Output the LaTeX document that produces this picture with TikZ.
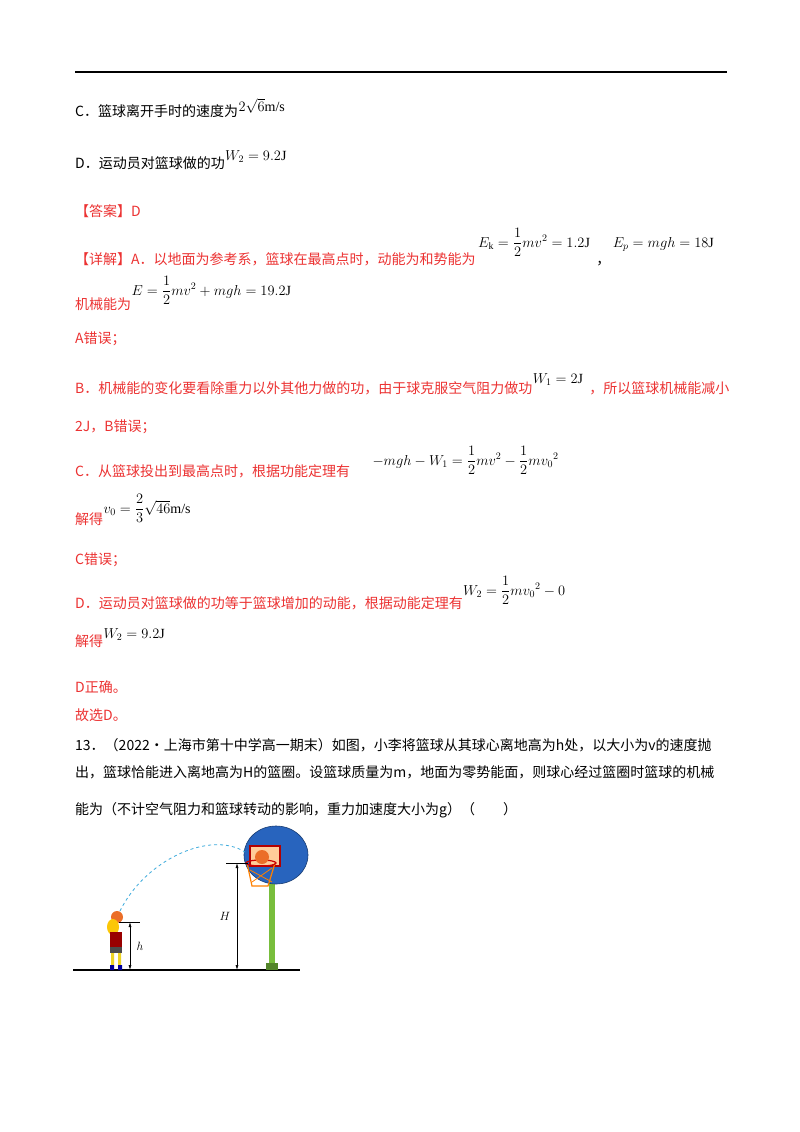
\documentclass[tikz,border=0pt]{standalone}
\usepackage{amsmath}
\usepackage{fontspec}
\setmainfont{Liberation Serif}
\newfontfamily\cjk{Noto Sans CJK SC}
\usetikzlibrary{arrows.meta}
\definecolor{ansred}{RGB}{236,50,50}
\definecolor{bblue}{RGB}{40,100,190}
\definecolor{pgreen}{RGB}{120,190,60}
\definecolor{borange}{RGB}{235,110,40}
\definecolor{dashc}{RGB}{60,170,220}
\tikzset{
 txt/.style={anchor=base west,inner sep=0pt,font=\cjk\fontsize{14}{16}\selectfont},
 red/.style={txt,text=ansred},
 eq/.style={anchor=base west,inner sep=0pt,font=\fontsize{14}{16}\selectfont},
 dim/.style={{Latex[length=5pt,width=3pt]}-{Latex[length=5pt,width=3pt]},line width=0.6pt},
}
\begin{document}
\begin{tikzpicture}[x=1pt,y=-1pt]
\useasboundingbox (0,0) rectangle (800,1132);
\fill[white] (0,0) rectangle (800,1132);
\draw[line width=1.5pt] (75,72) -- (727,72);
\node[txt] (c1) at (75,116) {C．篮球离开手时的速度为};
\node[eq] (c1e) at ([yshift=5pt]c1.base east) {$2\sqrt{6}$m/s};
\node[txt] (d1) at (75,168) {D．运动员对篮球做的功};
\node[eq] (d1e) at ([yshift=8pt]d1.base east) {$W_2=9.2$J};
\node[red] (ans) at (75,216) {【答案】D};
\node[red] (xa) at (75,264) {【详解】A．以地面为参考系，篮球在最高点时，动能为和势能为};
\node[eq] (xae) at ([yshift=17pt,xshift=2pt]xa.base east) {$E_{\mathrm k}=\dfrac12 mv^2=1.2$J};
\node[txt] (cm) at ([xshift=6pt,yshift=-17pt]xae.base east) {，};
\node[eq] (xae2) at ([xshift=2pt,yshift=17pt]cm.base east) {$E_p=mgh=18$J};
\node[red] (jx) at (75,309) {机械能为};
\node[eq] (jxe) at ([yshift=14pt]jx.base east) {$E=\dfrac12 mv^2+mgh=19.2$J};
\node[red] (ae) at (75,343) {A错误；};
\node[red] (b1) at (75,393) {B．机械能的变化要看除重力以外其他力做的功，由于球克服空气阻力做功};
\node[eq] (b1e) at ([yshift=10pt]b1.base east) {$W_1=2$J};
\node[red] (b1r) at ([xshift=6pt,yshift=-10pt]b1e.base east) {，所以篮球机械能减小};
\node[red] (b2) at (75,431) {2J，B错误；};
\node[red] (cc) at (75,476) {C．从篮球投出到最高点时，根据功能定理有};
\node[eq] (cce) at ([xshift=22pt,yshift=11pt]cc.base east) {$-mgh-W_1=\dfrac12 mv^2-\dfrac12 m{v_0}^2$};
\node[red] (cj) at (75,524) {解得};
\node[eq] (cje) at ([yshift=11pt]cj.base east) {$v_0=\dfrac23\sqrt{46}$m/s};
\node[red] (ce) at (75,564) {C错误；};
\node[red] (dd) at (75,608) {D．运动员对篮球做的功等于篮球增加的动能，根据动能定理有};
\node[eq] (dde) at ([yshift=13pt]dd.base east) {$W_2=\dfrac12 m{v_0}^2-0$};
\node[red] (dj) at (75,646) {解得};
\node[eq] (dje) at ([yshift=8pt]dj.base east) {$W_2=9.2$J};
\node[red] (dz) at (75,692) {D正确。};
\node[red] (gx) at (75,720) {故选D。};
\node[txt] (q1) at (75,750) {13．（2022•上海市第十中学高一期末）如图，小李将篮球从其球心离地高为h处，以大小为v的速度抛};
\node[txt] (q2) at (75,777) {出，篮球恰能进入离地高为H的篮圈。设篮球质量为m，地面为零势能面，则球心经过篮圈时篮球的机械};
\node[txt] (q3) at (75,814) {能为（不计空气阻力和篮球转动的影响，重力加速度大小为g）（\qquad）};
% figure
\draw[line width=1.2pt] (73,970) -- (300,970);
\fill[pgreen] (269,880) rectangle (275,965);
\fill[pgreen!70!black] (266,963) rectangle (278,970);
\fill[bblue] (276,855) ellipse (32 and 29);
\draw[bblue!60!black,line width=0.6pt] (276,855) ellipse (32 and 29);
\draw[red!70!black,line width=1.5pt,fill=orange!40] (250,846) rectangle (280,866);
\draw[orange,line width=1.2pt] (247,863) -- (252,886) -- (268,886) -- (275,863);
\draw[orange,line width=0.8pt] (250,870) -- (272,882) (272,868) -- (252,882);
\draw[red!80!black,line width=1.2pt] (261,863) ellipse (15 and 3);
\fill[borange] (262,857) circle (7);
\draw[dashc,dashed,line width=0.8pt] (120,911) .. controls (145,860) and (210,830) .. (245,852);
% girl
\fill[borange] (117,917) circle (6);
\fill[yellow!60!orange] (113,927) ellipse (6 and 8);
\fill[red!60!black] (110,932) rectangle (122,950);
\fill[black!70] (110,947) rectangle (122,953);
\fill[yellow!70!brown] (111,953) rectangle (114,965) (118,953) rectangle (121,965);
\fill[blue!60!black] (110,965) rectangle (114,970) (118,965) rectangle (122,970);
\coordinate (ht) at (130,922); \coordinate (hb) at (130,970);
\draw[line width=0.6pt] (119,922) -- (140,922);
\draw[dim] (ht) -- (hb) node[midway,right=3pt,font=\fontsize{13}{14}\selectfont] {$h$};
\coordinate (Ht) at (237,863); \coordinate (Hb) at (237,970);
\draw[line width=0.6pt] (226,863) -- (248,863);
\draw[dim] (Ht) -- (Hb) node[midway,left=3pt,font=\fontsize{13}{14}\selectfont] {$H$};
\end{tikzpicture}
\end{document}
